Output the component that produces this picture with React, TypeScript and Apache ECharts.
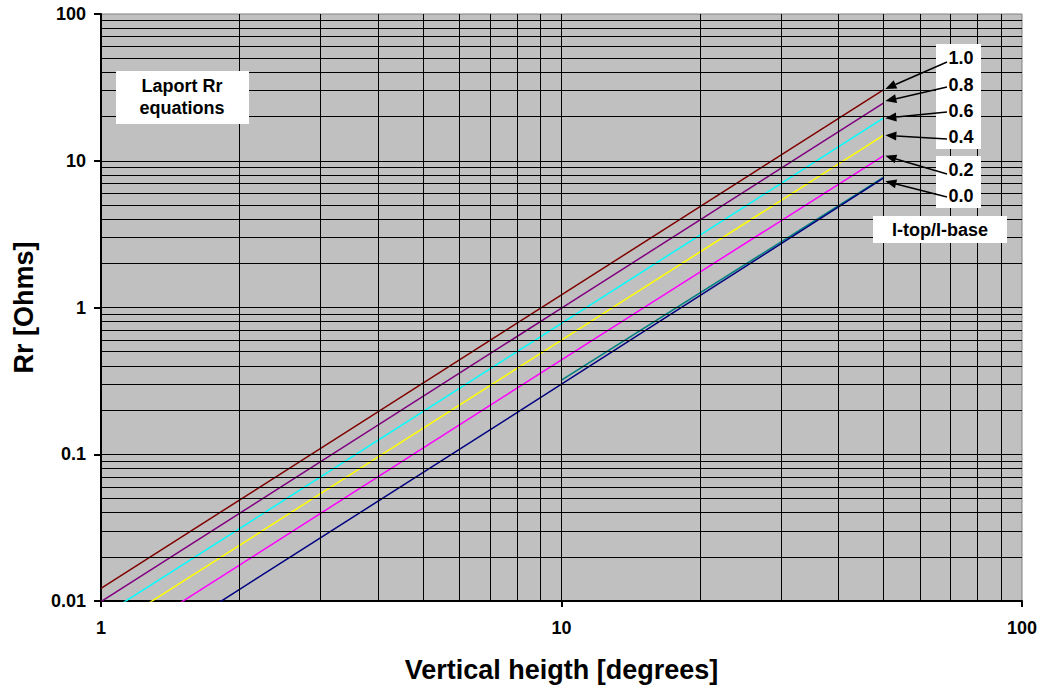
import React, { useEffect, useRef } from "react";
import * as echarts from "echarts";

// Data (log-log: Rr [Ohms] vs vertical height [degrees])
const heights = [1, 10, 50];
const ratioLabels = ["1.0", "0.8", "0.6", "0.4", "0.2", "0.0"];
const rr_1_0 = [0.0122, 1.22, 30.4];
const rr_0_8 = [0.0099, 0.99, 24.7];
const rr_0_6 = [0.0078, 0.78, 19.5];
const rr_0_4 = [0.006, 0.6, 14.9];
const rr_0_2 = [0.0044, 0.44, 10.8];
const rr_0_0 = [0.003, 0.3, 7.6];
const tealHeights = [10, 50];
const rr_0_0_alt = [0.32, 7.7];

const xGridValues = [2, 3, 4, 5, 6, 7, 8, 9, 10, 20, 30, 40, 50, 60, 70, 80, 90];
const yGridValues = [
  0.02, 0.03, 0.04, 0.05, 0.06, 0.07, 0.08, 0.09, 0.1,
  0.2, 0.3, 0.4, 0.5, 0.6, 0.7, 0.8, 0.9, 1,
  2, 3, 4, 5, 6, 7, 8, 9, 10,
  20, 30, 40, 50, 60, 70, 80, 90,
];

const FONT = '"Liberation Sans", Arial, Helvetica, sans-serif';

const mainSeries = [
  { name: "1.0", values: rr_1_0, color: "#800000" },
  { name: "0.8", values: rr_0_8, color: "#800080" },
  { name: "0.6", values: rr_0_6, color: "#00FFFF" },
  { name: "0.4", values: rr_0_4, color: "#FFFF00" },
  { name: "0.2", values: rr_0_2, color: "#FF00FF" },
  { name: "0.0", values: rr_0_0, color: "#000080" },
];

// annotation layout (pixels)
const labelY = [58, 85, 111, 137, 170, 196];
const tailY = [62, 87, 112, 139, 174, 197];

function fmt(v: number) {
  if (v >= 1) return v.toFixed(0);
  return String(parseFloat(v.toPrecision(3)));
}

export default function App() {
  const ref = useRef<HTMLDivElement>(null);
  useEffect(() => {
    if (!ref.current) return;
    const chart = echarts.init(ref.current, undefined, { renderer: "svg" });
    const lineSeries: any[] = [];
    lineSeries.push({
      type: "line",
      data: [],
      z: 1,
      silent: true,
      markLine: {
        silent: true,
        symbol: "none",
        label: { show: false },
        lineStyle: { color: "#000", width: 1, type: "solid" },
        emphasis: { disabled: true },
        data: [
          ...xGridValues.map((v) => ({ xAxis: v })),
          ...yGridValues.map((v) => ({ yAxis: v })),
        ],
      },
    });
    lineSeries.push({
      type: "line",
      name: "0.0 alt",
      data: tealHeights.map((h, i) => [h, rr_0_0_alt[i]]),
      showSymbol: false,
      symbol: "none",
      z: 3,
      lineStyle: { color: "#008080", width: 1.6 },
      clip: true,
    });
    mainSeries.forEach((s) => {
      lineSeries.push({
        type: "line",
        name: s.name,
        data: heights.map((h, i) => [h, s.values[i]]),
        showSymbol: false,
        symbol: "none",
        z: 4,
        lineStyle: { color: s.color, width: 1.5 },
        clip: true,
      });
    });

    chart.setOption({
      animation: false,
      backgroundColor: "#ffffff",
      grid: {
        left: 101,
        right: 19,
        top: 14,
        bottom: 84,
        show: true,
        backgroundColor: "#C0C0C0",
        borderColor: "#808080",
        borderWidth: 1,
      },
      xAxis: {
        type: "log",
        logBase: 10,
        min: 1,
        max: 100,
        name: "Vertical heigth [degrees]",
        nameLocation: "middle",
        nameGap: 55,
        nameTextStyle: { fontFamily: FONT, fontWeight: "bold", fontSize: 27, color: "#000" },
        axisLine: { show: true, lineStyle: { color: "#000", width: 2 } },
        axisTick: { show: true, length: 6, lineStyle: { color: "#000", width: 2 } },
        axisLabel: {
          fontFamily: FONT,
          fontWeight: "bold",
          fontSize: 18,
          color: "#000",
          margin: 18,
          formatter: (v: number) => fmt(v),
        },
        splitLine: { show: false },
        minorTick: { show: false },
      },
      yAxis: {
        type: "log",
        logBase: 10,
        min: 0.01,
        max: 100,
        name: "Rr [Ohms]",
        nameLocation: "middle",
        nameGap: 64,
        nameTextStyle: { fontFamily: FONT, fontWeight: "bold", fontSize: 27, color: "#000" },
        axisLine: { show: true, lineStyle: { color: "#000", width: 2 } },
        axisTick: { show: true, length: 7, lineStyle: { color: "#000", width: 2 } },
        axisLabel: {
          fontFamily: FONT,
          fontWeight: "bold",
          fontSize: 18,
          color: "#000",
          margin: 15,
          formatter: (v: number) => fmt(v),
        },
        splitLine: { show: false },
        minorTick: { show: false },
      },
      series: lineSeries,
    });

    // annotations: arrows from labels to series end points
    const graphics: any[] = [];
    graphics.push({
      type: "rect",
      shape: { x: 116, y: 71, width: 133, height: 53 },
      style: { fill: "#fff" },
      z: 10,
    });
    graphics.push({
      type: "text",
      x: 182,
      y: 86,
      style: {
        text: "Laport Rr",
        font: `bold 18px ${FONT}`,
        fill: "#000",
        align: "center",
        verticalAlign: "middle",
      },
      z: 12,
    });
    graphics.push({
      type: "text",
      x: 182,
      y: 108,
      style: {
        text: "equations",
        font: `bold 18px ${FONT}`,
        fill: "#000",
        align: "center",
        verticalAlign: "middle",
      },
      z: 12,
    });
    graphics.push({
      type: "rect",
      shape: { x: 936, y: 44, width: 45, height: 105 },
      style: { fill: "#fff" },
      z: 10,
    });
    graphics.push({
      type: "rect",
      shape: { x: 936, y: 156, width: 45, height: 52 },
      style: { fill: "#fff" },
      z: 10,
    });
    graphics.push({
      type: "rect",
      shape: { x: 873, y: 216, width: 134, height: 27 },
      style: { fill: "#fff" },
      z: 10,
    });
    graphics.push({
      type: "text",
      x: 940,
      y: 230,
      style: {
        text: "I-top/I-base",
        font: `bold 18px ${FONT}`,
        fill: "#000",
        align: "center",
        verticalAlign: "middle",
      },
      z: 12,
    });

    mainSeries.forEach((s, i) => {
      const last = s.values.length - 1;
      const p = chart.convertToPixel({ gridIndex: 0 }, [heights[last], s.values[last]]) as number[];
      const tipX = p[0] + 2;
      const tipY = p[1] + (i === 5 ? 3 : i === 0 ? -1 : i === 1 ? -2 : 0);
      const tailX = 947;
      const tY = tailY[i];
      const dx = tailX - tipX;
      const dy = tY - tipY;
      const len = Math.sqrt(dx * dx + dy * dy);
      const ux = dx / len;
      const uy = dy / len;
      const headLen = 11;
      const headW = 4.5;
      const bx = tipX + ux * headLen;
      const by = tipY + uy * headLen;
      graphics.push({
        type: "line",
        shape: { x1: tailX, y1: tY, x2: bx, y2: by },
        style: { stroke: "#000", lineWidth: 1.5 },
        z: 11,
      });
      graphics.push({
        type: "polygon",
        shape: {
          points: [
            [tipX, tipY],
            [bx - uy * headW, by + ux * headW],
            [bx + uy * headW, by - ux * headW],
          ],
        },
        style: { fill: "#000" },
        z: 11,
      });
      graphics.push({
        type: "text",
        x: 961,
        y: labelY[i],
        style: {
          text: ratioLabels[i],
          font: `bold 18px ${FONT}`,
          fill: "#000",
          align: "center",
          verticalAlign: "middle",
        },
        z: 12,
      });
    });

    chart.setOption({ graphic: graphics });

    return () => {
      chart.dispose();
    };
  }, []);

  return (
    <div
      ref={ref}
      style={{ position: "fixed", left: 0, top: 0, width: 1041, height: 688, background: "#fff" }}
    />
  );
}
